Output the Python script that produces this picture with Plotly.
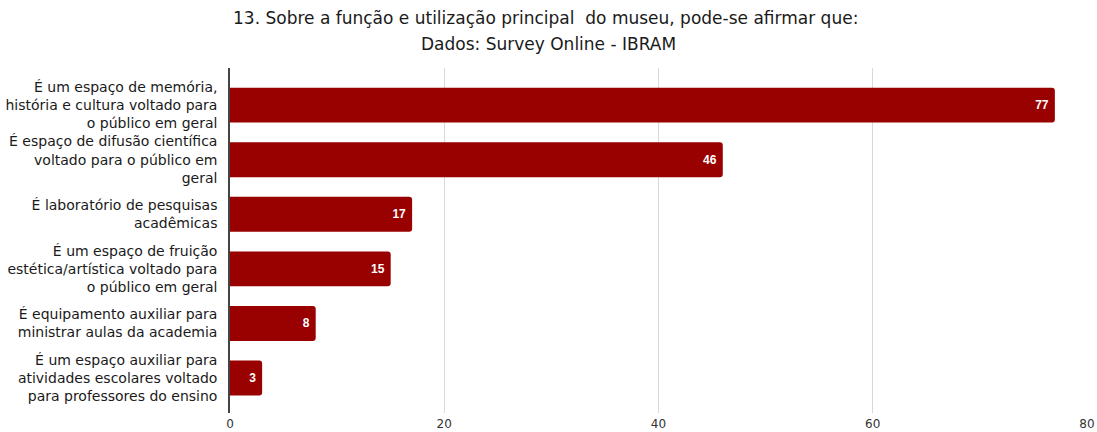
import plotly.graph_objects as go

categories = [
    "É um espaço de memória,<br>história e cultura voltado para<br>o público em geral",
    "É espaço de difusão científica<br>voltado para o público em<br>geral",
    "É laboratório de pesquisas<br>acadêmicas",
    "É um espaço de fruição<br>estética/artística voltado para<br>o público em geral",
    "É equipamento auxiliar para<br>ministrar aulas da academia",
    "É um espaço auxiliar para<br>atividades escolares voltado<br>para professores do ensino",
]
values = [77, 46, 17, 15, 8, 3]
x_ticks = [0, 20, 40, 60, 80]

title_line1 = "13. Sobre a função e utilização principal  do museu, pode-se afirmar que:"
title_line2 = "Dados: Survey Online - IBRAM"

FONT = "DejaVu Sans, Liberation Sans, Arial, sans-serif"
BOLD_FONT = "Liberation Sans, Arial, sans-serif"

L, R, T, B = 230, 10, 68, 19
W, H = 1097, 432
plot_w = W - L - R
plot_h = H - T - B


def px_to_paper_x(px):
    return (px - L) / plot_w


def px_to_paper_y(py):
    return 1 + (T - py) / plot_h


fig = go.Figure(
    go.Bar(
        x=values,
        y=categories,
        orientation="h",
        marker=dict(color="#990000", cornerradius=3, line=dict(width=0)),
        width=0.64,
        text=[str(v) + " " for v in values],
        textposition="inside",
        insidetextanchor="end",
        textfont=dict(color="white", size=12, family=BOLD_FONT, weight="bold"),
        cliponaxis=False,
    )
)

fig.update_layout(
    width=W,
    height=H,
    margin=dict(l=L, r=R, t=T, b=B),
    plot_bgcolor="white",
    paper_bgcolor="white",
    showlegend=False,
    font=dict(family=FONT, color="#222222"),
    annotations=[
        dict(text=title_line1, x=px_to_paper_x(545), y=px_to_paper_y(18),
             xref="paper", yref="paper", xanchor="center", yanchor="middle",
             showarrow=False, font=dict(size=17, color="#1a1a1a", family=FONT)),
        dict(text=title_line2, x=px_to_paper_x(548), y=px_to_paper_y(44),
             xref="paper", yref="paper", xanchor="center", yanchor="middle",
             showarrow=False, font=dict(size=17, color="#1a1a1a", family=FONT)),
    ],
)

fig.update_xaxes(
    range=[0, 80],
    tickvals=x_ticks,
    showgrid=True,
    gridcolor="#d9d9d9",
    gridwidth=1,
    zeroline=False,
    showline=False,
    ticks="",
    automargin=False,
    ticklabelstandoff=2,
    tickfont=dict(size=12, color="#333333", family=FONT),
)
fig.update_yaxes(
    type="category",
    range=[5.64, -0.68],
    showgrid=False,
    showline=True,
    linecolor="#444444",
    linewidth=1.5,
    ticks="",
    automargin=False,
    ticklabelstandoff=8,
    tickfont=dict(size=14, color="#1a1a1a", family=FONT),
)

fig.write_html("out.html")
